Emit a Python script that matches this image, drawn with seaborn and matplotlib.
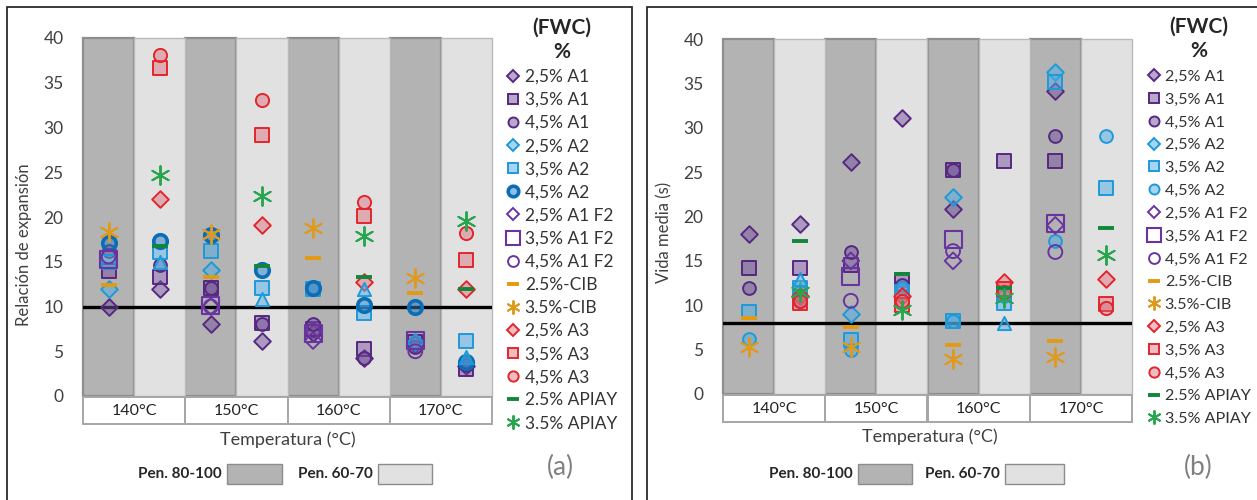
import numpy as np
import pandas as pd
import matplotlib
matplotlib.use("Agg")
import matplotlib.pyplot as plt
from matplotlib.lines import Line2D
from matplotlib.patches import Rectangle
from matplotlib.transforms import blended_transform_factory
import seaborn as sns

nan = np.nan

# ---- categories -------------------------------------------------------------
temperatures = ["140°C", "150°C", "160°C", "170°C"]
binders = ["Pen. 80-100", "Pen. 60-70"]
band_top = 40                      # height of the shaded binder bands
yticks = [0, 5, 10, 15, 20, 25, 30, 35, 40]

series_labels = ["2,5% A1", "3,5% A1", "4,5% A1", "2,5% A2", "3,5% A2", "4,5% A2",
                 "2,5% A1 F2", "3,5% A1 F2", "4,5% A1 F2", "2.5%-CIB", "3.5%-CIB",
                 "2,5% A3", "3,5% A3", "4,5% A3", "2.5% APIAY", "3.5% APIAY"]

# Each list has 8 values: (140, 80-100), (140, 60-70), (150, 80-100), ... (170, 60-70)
# ---- (a) Relación de expansión ---------------------------------------------
er_a1_25 = [10.0, 12.0, 8.1, 6.1, 7.0, 4.2, 5.8, 3.3]
er_a1_35 = [14.0, 13.3, 12.1, 8.2, 7.5, 5.3, 6.0, 3.0]
er_a1_45 = [16.2, 14.6, 12.1, 8.1, 8.0, 4.2, 5.5, 3.5]
er_a2_25 = [11.9, nan, 14.1, nan, nan, nan, 6.0, nan]
er_a2_35 = [15.0, 16.1, 16.2, 12.1, 12.0, 9.3, nan, 6.2]
er_a2_45 = [17.1, 17.3, 18.0, 14.1, 12.1, 10.2, 10.0, 3.8]
er_a2_tri = [nan, 15.0, nan, 10.8, nan, 12.0, nan, 4.4]
er_f2_25 = [nan, nan, 10.0, nan, 6.2, nan, nan, nan]
er_f2_35 = [15.2, nan, 10.1, nan, 7.0, nan, 6.2, nan]
er_f2_45 = [15.6, nan, 10.0, nan, 7.3, nan, 5.0, nan]
er_cib_25 = [12.4, nan, 13.3, nan, 15.4, nan, 11.5, nan]
er_cib_35 = [18.3, nan, 18.1, nan, 18.8, nan, 13.2, nan]
er_a3_25 = [nan, 22.0, nan, 19.1, nan, 12.7, nan, 12.0]
er_a3_35 = [nan, 36.6, nan, 29.2, nan, 20.1, nan, 15.2]
er_a3_45 = [nan, 38.1, nan, 33.1, nan, 21.7, nan, 18.2]
er_api_25 = [nan, 16.8, nan, 14.5, nan, 13.3, nan, 12.0]
er_api_35 = [nan, 24.7, nan, 22.3, nan, 17.9, nan, 19.5]
er_limit = 10

# ---- (b) Vida media (s) -----------------------------------------------------
hl_a1_25 = [18.0, 19.1, 26.1, 31.1, 20.9, nan, 34.1, nan]
hl_a1_35 = [14.2, 14.2, 14.5, 12.8, 25.2, 26.2, 26.2, nan]
hl_a1_45 = [12.0, 10.5, 16.0, 12.3, 25.2, nan, 29.1, nan]
hl_a2_25 = [nan, nan, 9.0, nan, 22.2, nan, 36.3, nan]
hl_a2_35 = [9.2, 12.0, 6.1, 11.5, 8.2, 10.3, 35.2, 23.2]
hl_a2_45 = [6.2, 11.5, 5.0, 12.0, 8.2, 11.0, 17.2, 29.1]
hl_a2_tri = [nan, 13.0, nan, nan, nan, 8.0, nan, nan]
hl_f2_25 = [nan, nan, 15.0, nan, 15.0, nan, 19.0, nan]
hl_f2_35 = [nan, nan, 13.2, nan, 17.4, nan, 19.2, nan]
hl_f2_45 = [nan, nan, 10.5, nan, 16.1, nan, 16.0, nan]
hl_cib_25 = [8.6, nan, 7.5, nan, 5.5, nan, 6.0, nan]
hl_cib_35 = [5.3, nan, 5.3, nan, 4.0, nan, 4.2, nan]
hl_a3_25 = [nan, 11.0, nan, 11.0, nan, 12.6, nan, 13.0]
hl_a3_35 = [nan, 10.2, nan, 10.0, nan, 11.8, nan, 10.1]
hl_a3_45 = [nan, 10.5, nan, 10.5, nan, 11.5, nan, 9.7]
hl_api_25 = [nan, 17.2, nan, 13.5, nan, 12.0, nan, 18.7]
hl_api_35 = [nan, 11.5, nan, 9.5, nan, 10.8, nan, 15.7]
hl_limit = 8

expansion = [er_a1_25, er_a1_35, er_a1_45, er_a2_25, er_a2_35, er_a2_45,
             er_f2_25, er_f2_35, er_f2_45, er_cib_25, er_cib_35,
             er_a3_25, er_a3_35, er_a3_45, er_api_25, er_api_35]
half_life = [hl_a1_25, hl_a1_35, hl_a1_45, hl_a2_25, hl_a2_35, hl_a2_45,
             hl_f2_25, hl_f2_35, hl_f2_45, hl_cib_25, hl_cib_35,
             hl_a3_25, hl_a3_35, hl_a3_45, hl_api_25, hl_api_35]

# ---- styling ----------------------------------------------------------------
PUR_E = "#56287f"
PUR_F = (0.46, 0.32, 0.62, 0.50)
F2_E = "#6a34a0"
BLU_E = "#1d9ad8"
BLU_F = (0.30, 0.68, 0.90, 0.50)
BLU_D = "#0a6db5"
ORANGE = "#e49a10"
GOLD = "#df9a1e"
RED_E = "#e2262c"
RED_F = (0.86, 0.42, 0.47, 0.45)
GREEN_D = "#11873a"
GREEN_A = "#27a64f"
ASTER = (6, 2, 0)

def styles(variant):
    a2_45 = (dict(marker="o", s=95, fc=(0.15, 0.5, 0.8, 0.5), ec=BLU_D, lw=2.6)
             if variant == "a" else dict(marker="o", s=85, fc=BLU_F, ec=BLU_E, lw=1.4))
    return [
        dict(marker="D", s=72, fc=PUR_F, ec=PUR_E, lw=1.4),
        dict(marker="s", s=88, fc=PUR_F, ec=PUR_E, lw=1.4),
        dict(marker="o", s=85, fc=PUR_F, ec=PUR_E, lw=1.4),
        dict(marker="D", s=72, fc=BLU_F, ec=BLU_E, lw=1.4),
        dict(marker="s", s=88, fc=BLU_F, ec=BLU_E, lw=1.4),
        a2_45,
        dict(marker="D", s=72, fc="none", ec=F2_E, lw=1.4),
        dict(marker="s", s=150, fc="none", ec=F2_E, lw=1.5),
        dict(marker="o", s=100, fc="none", ec=F2_E, lw=1.4),
        dict(marker="_", s=120, fc=ORANGE, ec=None, lw=2.8),
        dict(marker=ASTER, s=180, fc=GOLD, ec=None, lw=1.4),
        dict(marker="D", s=72, fc=RED_F, ec=RED_E, lw=1.4),
        dict(marker="s", s=88, fc=RED_F, ec=RED_E, lw=1.4),
        dict(marker="o", s=90, fc=RED_F, ec=RED_E, lw=1.4),
        dict(marker="_", s=120, fc=GREEN_D, ec=None, lw=2.8),
        dict(marker=ASTER, s=180, fc=GREEN_A, ec=None, lw=1.4),
    ]

TRI = dict(marker="^", s=90, fc=BLU_F, ec=BLU_E, lw=1.4)

sns.set_theme(style="white")
FONT = ["Lato", "DejaVu Sans"]
plt.rcParams["font.family"] = FONT
TXT = "#404040"

fig = plt.figure(figsize=(12.57, 5.0), dpi=100)
W, H = 1257, 500

def fx(px):
    return px / W

def fy(py):
    return (H - py) / H

positions = list(range(8))
band_kind = [binders[i % 2] for i in positions]


def scatter_series(ax, values, st):
    df = pd.DataFrame({"x": positions, "y": values}).dropna()
    kw = dict(marker=st["marker"], s=st["s"], linewidth=st["lw"], zorder=5)
    if st["ec"] is None:
        kw.update(color=st["fc"], edgecolor=None)
    else:
        kw.update(color=st["ec"], facecolor=st["fc"], edgecolor=st["ec"])
    sns.scatterplot(data=df, x="x", y="y", ax=ax, legend=False, **kw)


def legend_handle(st):
    if st["ec"] is None:
        ms = np.sqrt(st["s"]) * (0.8 if st["marker"] == "_" else 0.75)
        return Line2D([], [], linestyle="", marker=st["marker"], markersize=ms,
                      color=st["fc"], markeredgewidth=st["lw"])
    return Line2D([], [], linestyle="", marker=st["marker"],
                  markersize=np.sqrt(st["s"]) * 0.78,
                  markerfacecolor=st["fc"], markeredgecolor=st["ec"],
                  markeredgewidth=st["lw"])


def draw_panel(frame, axrect, data, tri, limit, ylabel, ylab_y, variant, xl, legx,
               legfont, legspace, boxes, letterx):
    # panel frame (runs past the bottom edge of the figure)
    fig.patches.append(Rectangle((fx(frame[0]), -0.05), fx(frame[1] - frame[0]),
                                 fy(7) + 0.05, transform=fig.transFigure, fill=False,
                                 edgecolor="#2b2b2b", linewidth=1.3, zorder=0))
    ax = fig.add_axes(axrect)
    bands = pd.DataFrame({"pos": positions, "top": [band_top] * 8, "pen": band_kind})
    sns.barplot(data=bands, x="pos", y="top", hue="pen", dodge=False, width=1.0,
                palette={binders[0]: "#b3b3b3", binders[1]: "#e2e1e2"},
                legend=False, ax=ax, zorder=0)
    for p in ax.patches:
        dark = p.get_facecolor()[0] < 0.8
        p.set_edgecolor("#8e8e8e" if dark else "#b9b9b9")
        p.set_linewidth(1.6 if dark else 1.0)
        p.set_clip_on(False)
    ax.axhline(limit, color="black", linewidth=2.4, zorder=3)

    sts = styles(variant)
    for vals, st in zip(data, sts):
        scatter_series(ax, vals, st)
    scatter_series(ax, tri, TRI)

    ax.set_xlim(-0.5, 7.5)
    ax.set_ylim(0, 40)
    ax.set_yticks(yticks)
    ax.set_xticks([])
    ax.set_xlabel("")
    ax.set_ylabel("")
    ax.tick_params(axis="y", length=0, pad=14, labelsize=12.5, labelcolor=TXT)
    for sp in ax.spines.values():
        sp.set_visible(False)

    # temperature cells under the bands
    tr = blended_transform_factory(ax.transData, ax.transAxes)
    for i, t in enumerate(temperatures):
        ax.add_patch(Rectangle((2 * i - 0.5, -0.078), 2, 0.074, transform=tr,
                               facecolor="white", edgecolor="#a6a6a6",
                               linewidth=1.4, clip_on=False))
        ax.text(2 * i + 0.5, -0.041, t, transform=tr, ha="center", va="center",
                fontsize=11.5, color="#222222")

    fig.text(fx(xl[0]), fy(xl[1]), "Temperatura (°C)", ha="center", va="center",
             fontsize=13, color=TXT)
    fig.text(fx(frame[0] + 17), fy(ylab_y), ylabel, rotation=90, ha="center",
             va="center", fontsize=12, color=TXT)

    # series legend
    handles = [legend_handle(st) for st in sts]
    leg = fig.legend(handles, series_labels, loc="upper left",
                     bbox_to_anchor=(fx(legx), fy(9)), frameon=False,
                     title="(FWC)\n%", fontsize=legfont, handlelength=0.8,
                     handletextpad=0.3, labelspacing=legspace,
                     borderpad=0.0,
                     title_fontproperties={"weight": "bold", "size": 15})
    leg.get_title().set_color("#262626")
    leg.get_title().set_multialignment("center")
    leg.get_title().set_linespacing(1.25)
    for t in leg.get_texts():
        t.set_color("#333333")

    # binder legend
    b1, b2 = boxes
    for name, (x0, x1), col in ((binders[0], b1, "#b3b3b3"), (binders[1], b2, "#e2e1e2")):
        fig.text(fx(x0 - 5), fy(474), name, ha="right", va="center",
                 fontsize=11, fontweight="bold", color="#262626")
        fig.patches.append(Rectangle((fx(x0), fy(484)), fx(x1 - x0), 20 / H,
                                     transform=fig.transFigure, facecolor=col,
                                     edgecolor="#8c8c8c", linewidth=1.0))
    fig.text(fx(letterx), fy(467), "(" + variant + ")", ha="center", va="center",
             fontsize=19, color="#808080")
    return ax


draw_panel((7, 632), [fx(83), fy(396), fx(409), (396 - 38) / H], expansion, er_a2_tri,
           er_limit, "Relación de expansión", 245, "a", (288, 440), 497, 12.5, 0.41,
           ((227, 282), (378, 432)), 560)
draw_panel((647, 1275), [fx(723), fy(394), fx(409), (394 - 39) / H], half_life, hl_a2_tri,
           hl_limit, "Vida media (s)", 232, "b", (930, 437), 1139, 11.6, 0.53,
           ((858, 912), (1005, 1064)), 1198)

fig.savefig("out.png", dpi=100)
